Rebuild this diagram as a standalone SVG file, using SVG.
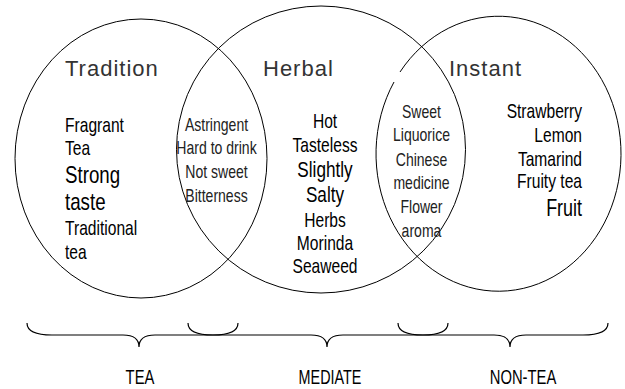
<svg xmlns="http://www.w3.org/2000/svg" width="625" height="389" viewBox="0 0 625 389">
<style>
.ring{fill:none;stroke:#000;stroke-width:1}
.brace{fill:none;stroke:#000;stroke-width:1.2}
.title{font-family:'Liberation Sans',Arial,sans-serif;font-size:22px;fill:#333;letter-spacing:1px}
.n{font-family:'Liberation Sans',Arial,sans-serif;fill:#000}
.l{font-family:'Liberation Sans',Arial,sans-serif;fill:#222;font-size:18px}
.c{text-anchor:middle}
.r{text-anchor:end}
</style>
<rect width="625" height="389" fill="#fff"/>
<g id="tradition">
<ellipse class="ring" cx="141" cy="158.5" rx="126" ry="139.5"/>
<text class="title" x="65" y="76">Tradition</text>
<text class="n" transform="translate(65 132) scale(.78 1)" font-size="20">Fragrant</text>
<text class="n" transform="translate(65 155) scale(.78 1)" font-size="20">Tea</text>
<text class="n" transform="translate(65 183) scale(.78 1)" font-size="24">Strong</text>
<text class="n" transform="translate(65 210) scale(.78 1)" font-size="24">taste</text>
<text class="n" transform="translate(65 235) scale(.78 1)" font-size="20">Traditional</text>
<text class="n" transform="translate(65 259) scale(.78 1)" font-size="20">tea</text>
</g>
<g id="herbal">
<ellipse class="ring" cx="321" cy="149.5" rx="144.5" ry="143.5"/>
<text class="title" x="263" y="76">Herbal</text>
<text class="n c" transform="translate(325 128) scale(.78 1)" font-size="20">Hot</text>
<text class="n c" transform="translate(325 152) scale(.78 1)" font-size="20">Tasteless</text>
<text class="n c" transform="translate(325 177) scale(.78 1)" font-size="22">Slightly</text>
<text class="n c" transform="translate(325 202) scale(.78 1)" font-size="22">Salty</text>
<text class="n c" transform="translate(325 227) scale(.78 1)" font-size="20">Herbs</text>
<text class="n c" transform="translate(325 250) scale(.78 1)" font-size="20">Morinda</text>
<text class="n c" transform="translate(325 273) scale(.78 1)" font-size="20">Seaweed</text>
</g>
<g id="instant">
<path class="ring" d="M400,72 A122.5,137.5 0 1 1 394,82"/>
<text class="title" x="449" y="76">Instant</text>
<text class="n r" transform="translate(582 118) scale(.78 1)" font-size="20">Strawberry</text>
<text class="n r" transform="translate(582 142) scale(.78 1)" font-size="20">Lemon</text>
<text class="n r" transform="translate(582 165.5) scale(.78 1)" font-size="20">Tamarind</text>
<text class="n r" transform="translate(582 188) scale(.78 1)" font-size="20">Fruity tea</text>
<text class="n r" transform="translate(582 216) scale(.78 1)" font-size="23">Fruit</text>
</g>
<g id="overlap-tradition-herbal">
<text class="l c" transform="translate(216.5 131) scale(.78 1)">Astringent</text>
<text class="l c" transform="translate(216.5 154) scale(.78 1)">Hard to drink</text>
<text class="l c" transform="translate(216.5 178) scale(.78 1)">Not sweet</text>
<text class="l c" transform="translate(216.5 202) scale(.78 1)">Bitterness</text>
</g>
<g id="overlap-herbal-instant">
<text class="l c" transform="translate(421.5 118) scale(.78 1)" font-size="19">Sweet</text>
<text class="l c" transform="translate(421.5 141) scale(.78 1)" font-size="19">Liquorice</text>
<text class="l c" transform="translate(421.5 166) scale(.78 1)" font-size="19">Chinese</text>
<text class="l c" transform="translate(421.5 189) scale(.78 1)" font-size="19">medicine</text>
<text class="l c" transform="translate(421.5 213) scale(.78 1)" font-size="19">Flower</text>
<text class="l c" transform="translate(421.5 237) scale(.78 1)" font-size="19">aroma</text>
</g>
<g id="connectors">
<path class="brace" d="M27,323 Q27,335 52,335 L123,335 Q139,335 139,347 Q139,335 155,335 L213,335 Q238,335 238,323"/>
<path class="brace" d="M188,323 Q188,335 213,335 L311,335 Q327,335 327,347 Q327,335 343,335 L423,335 Q448,335 448,323"/>
<path class="brace" d="M398,323 Q398,335 423,335 L494,335 Q510,335 510,347 Q510,335 526,335 L583,335 Q608,335 608,323"/>
</g>
<g id="tea">
<text class="n c" transform="translate(140 384) scale(.74 1)" font-size="20" fill="#222">TEA</text>
</g>
<g id="mediate">
<text class="n c" transform="translate(330 384) scale(.72 1)" font-size="20" fill="#222">MEDIATE</text>
</g>
<g id="non-tea">
<text class="n c" transform="translate(523 384) scale(.74 1)" font-size="20" fill="#222">NON-TEA</text>
</g>
</svg>
